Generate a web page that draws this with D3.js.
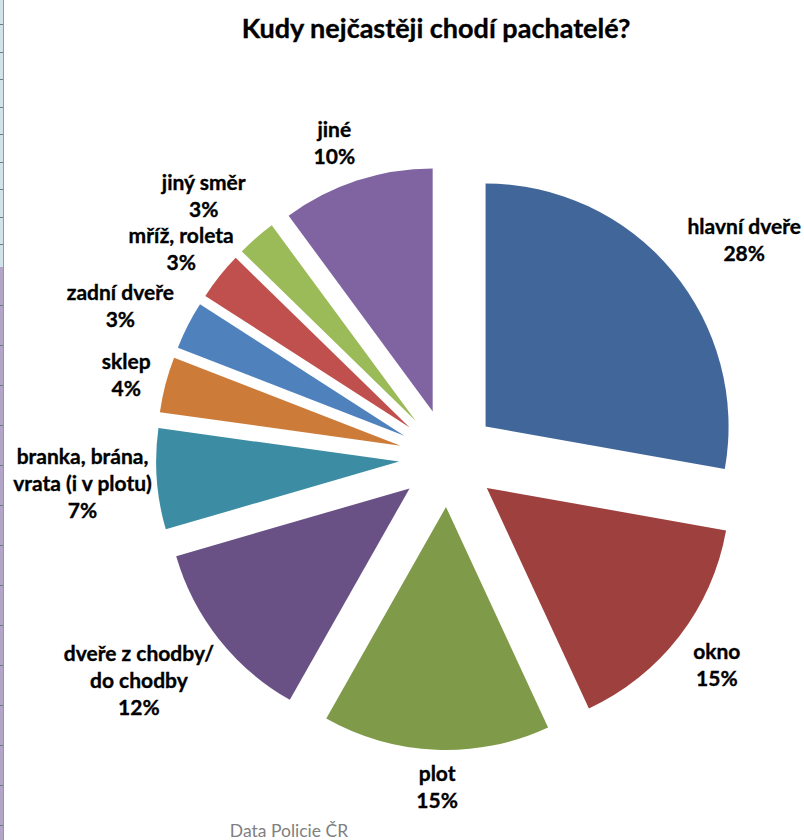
<!DOCTYPE html>
<html>
<head>
<meta charset="utf-8">
<script src="https://cdn.jsdelivr.net/npm/d3@7"></script>
<style>
  body { margin: 0; background: #fff; }
  svg { display: block; }
</style>
</head>
<body>
<div id="vis"></div>
<script>
// chart data
var categories = ["hlavní dveře", "okno", "plot", "dveře z chodby/|do chodby", "branka, brána,|vrata (i v plotu)",
                  "sklep", "zadní dveře", "mříž, roleta", "jiný směr", "jiné"];
var shares = [27.8, 15.3, 15.1, 12.3, 6.7, 3.7, 3.2, 3.2, 2.6, 10.1];
var colors = ["#41679a", "#9e413e", "#7f9a48", "#695185", "#3c8da3",
              "#cc7b38", "#4f81bd", "#c0504d", "#9bbb59", "#8064a2"];
var title = "Kudy nejčastěji chodí pachatelé?";
var source = "Data Policie ČR";

// small label shifts, like Excel's own collision handling
var labelNudge = [[8, 1], [6, -4], [4, 0], [3, -5], [5, -6],
                  [-5, 12], [-5, 10], [22, 4], [-4, -9], [0, -3]];

var width = 804, height = 840;
var cx = 448, cy = 458;
var radius = 243, explode = 49, labelGap = 10;

var svg = d3.select("#vis")
    .append("svg")
    .attr("width", width)
    .attr("height", height);

// spreadsheet edge on the left
svg.append("rect").attr("x", 0).attr("y", 0).attr("width", 3).attr("height", 267).attr("fill", "#cfe3e8");
svg.append("rect").attr("x", 0).attr("y", 267).attr("width", 3).attr("height", height - 267).attr("fill", "#b3a5c8");
svg.append("line").attr("x1", 3.5).attr("x2", 3.5).attr("y1", 0).attr("y2", height)
   .attr("stroke", "#8d9ca3").attr("stroke-width", 1);
svg.selectAll(".rowTick")
   .data(d3.range(24, 267, 27.5).concat(d3.range(305, height, 40)))
   .join("line")
   .attr("class", "rowTick")
   .attr("x1", 0).attr("x2", 3)
   .attr("y1", d => Math.round(d) + 0.5).attr("y2", d => Math.round(d) + 0.5)
   .attr("stroke", "#6f7b80");

var data = categories.map((c, i) => ({name: c, value: shares[i], color: colors[i], nudge: labelNudge[i]}));

var pie = d3.pie().sort(null).value(d => d.value);
var arc = d3.arc().innerRadius(0).outerRadius(radius);
var arcs = pie(data);

var g = svg.append("g").attr("transform", "translate(" + cx + "," + cy + ")");

function mid(d) { return (d.startAngle + d.endAngle) / 2; }

g.selectAll(".slice")
  .data(arcs)
  .join("path")
  .attr("class", "slice")
  .attr("fill", d => d.data.color)
  .attr("transform", d => "translate(" + (Math.sin(mid(d)) * explode) + "," + (-Math.cos(mid(d)) * explode) + ")")
  .attr("d", arc);

// labels
var lineH = 27;
var labels = g.selectAll(".label")
  .data(arcs)
  .join("text")
  .attr("class", "label")
  .attr("text-anchor", "middle")
  .style("font", "bold 21px Lato, sans-serif")
  .attr("fill", "#000")
  .attr("stroke", "#000")
  .attr("stroke-width", 0.35);

labels.each(function(d) {
  var lines = d.data.name.split("|").concat([Math.round(d.data.value) + "%"]);
  var t = d3.select(this);
  lines.forEach((l, i) => {
    t.append("tspan").attr("x", 0).attr("y", i * lineH).text(l);
  });
});

var clamp = v => Math.max(-1, Math.min(1, v));
labels.attr("transform", function(d) {
  var bb = this.getBBox();
  var a = mid(d);
  var R = radius + explode + labelGap;
  var ax = Math.sin(a) * R, ay = -Math.cos(a) * R;
  var bx = ax + bb.width / 2 * clamp(3 * Math.sin(a)) + d.data.nudge[0];
  var by = ay - bb.height / 2 * clamp(3 * Math.cos(a)) + d.data.nudge[1];
  // shift so bbox centre lands on (bx, by)
  var ox = bx - (bb.x + bb.width / 2);
  var oy = by - (bb.y + bb.height / 2);
  return "translate(" + ox + "," + oy + ")";
});

// title
svg.append("text")
  .attr("x", 436).attr("y", 38)
  .attr("text-anchor", "middle")
  .style("font", "bold 27px Lato, sans-serif")
  .attr("stroke", "#000")
  .attr("stroke-width", 0.35)
  .text(title);

// source
svg.append("text")
  .attr("x", 289).attr("y", 837)
  .attr("text-anchor", "middle")
  .attr("fill", "#808080")
  .style("font", "17.5px Lato, sans-serif")
  .text(source);
</script>
</body>
</html>
